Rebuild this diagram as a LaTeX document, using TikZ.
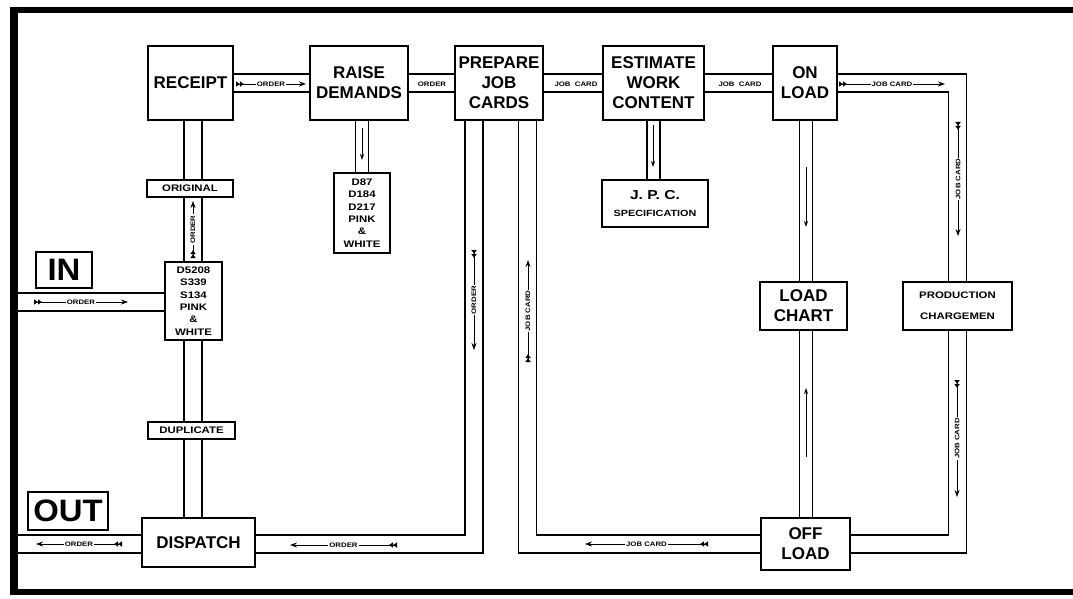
\documentclass[tikz,border=0pt]{standalone}
\usepackage{fontspec}
\setmainfont{Liberation Sans}
\newfontfamily\widefont[FakeStretch=1.2]{Liberation Sans}
\newfontfamily\boxfont[FakeStretch=1.06]{Liberation Sans}
\usetikzlibrary{arrows.meta,backgrounds}

\tikzset{
  box/.style={draw, fill=white, line width=1.3pt, align=center, inner sep=0pt,
    font=\fontsize{17}{20}\selectfont\bfseries},
  tag/.style={draw, fill=white, line width=1.3pt, align=center, inner sep=0pt,
    font=\widefont\fontsize{9.5}{12.3}\selectfont\bfseries},
  bigtag/.style={draw, fill=white, line width=2.5pt, inner sep=0pt,
    font=\boxfont\fontsize{31}{31}\selectfont\bfseries},
  pipe/.style={double distance=16.5pt, line width=1.3pt},
  thinpipe/.style={double distance=11.5pt, line width=1.3pt},
  flow/.style={line width=0.9pt,
    arrows={{Latex[reversed,length=4pt,width=6pt]Latex[reversed,length=4pt,width=6pt]}-{Stealth[length=7pt,width=5pt]}}},
  plainarrow/.style={line width=1pt, -{Stealth[length=6pt,width=4pt]}},
  lab/.style={fill=white, inner sep=1pt, font=\widefont\fontsize{6.5}{7}\selectfont\bfseries},
}

\begin{document}
\begin{tikzpicture}[x=1pt, y=-1pt]
    \useasboundingbox (0,0) rectangle (1073,599);

    % --- main row ---
    \node[box, minimum width=85pt, minimum height=74pt] (receipt) at (190.5,83) {RECEIPT};
    \node[box, minimum width=98pt, minimum height=74pt] (raise) at (359,83) {RAISE\\DEMANDS};
    \node[box, minimum width=88pt, minimum height=74pt] (prepare) at (499,83) {PREPARE\\JOB\\CARDS};
    \node[box, minimum width=101pt, minimum height=74pt] (estimate) at (653.5,83) {ESTIMATE\\WORK\\CONTENT};
    \node[box, minimum width=64pt, minimum height=74pt] (onload) at (805,83) {ON\\LOAD};

    % --- forms and copies ---
    \node[tag, minimum width=86pt, minimum height=17pt] (original) at (190,188.5) {ORIGINAL};
    \node[tag, minimum width=57pt, minimum height=78pt] (forms1) at (193.5,301)
        {D5208\\S339\\S134\\PINK\\\&\\WHITE};
    \node[tag, minimum width=87pt, minimum height=17pt] (duplicate) at (191.5,430.5) {DUPLICATE};
    \node[tag, minimum width=56pt, minimum height=80pt] (forms2) at (362,213)
        {D87\\D184\\D217\\PINK\\\&\\WHITE};
    \node[tag, minimum width=106pt, minimum height=47pt, font=\widefont\fontsize{13}{16}\selectfont\bfseries] (jpc) at (655,203.5)
        {J.\,\,P.\,\,C.\\[1pt]{\fontsize{9}{10}\selectfont SPECIFICATION}};
    \node[tag, minimum width=109pt, minimum height=48pt, font=\widefont\fontsize{9.5}{21}\selectfont\bfseries] (prod) at (957.5,306)
        {PRODUCTION\\CHARGEMEN};

    % --- lower boxes ---
    \node[box, minimum width=87pt, minimum height=48pt] (loadchart) at (803.5,306) {LOAD\\CHART};
    \node[box, minimum width=89pt, minimum height=52pt] (offload) at (805.5,544) {OFF\\LOAD};
    \node[box, minimum width=113pt, minimum height=49pt] (dispatch) at (198.5,542.5) {DISPATCH};
    \node[bigtag, minimum width=56pt, minimum height=36pt] (inbox) at (64,270) {IN};
    \node[bigtag, minimum width=80pt, minimum height=38pt] (outbox) at (68,511) {OUT};

    % --- channels, under the boxes ---
    \coordinate (spine) at ([xshift=2.5pt]receipt.center);
    \coordinate (ordr) at ([xshift=-25pt]prepare.center);
    \coordinate (jobr) at ([xshift=28.5pt]prepare.center);
    \coordinate (inend) at (12,302);
    \coordinate (outend) at (12,544);
    \begin{scope}[on background layer]
        \draw[pipe] (receipt.center) -- (raise.center);
        \draw[pipe] (raise.center) -- (prepare.center);
        \draw[pipe] (prepare.center) -- (estimate.center);
        \draw[pipe] (estimate.center) -- (onload.center);
        \draw[pipe] (onload.center) -| (prod.center);
        \draw[pipe] (prod.center) |- (offload.center);
        \draw[pipe] (spine) -- (spine |- dispatch.center);
        \draw[pipe] (ordr) |- (dispatch.center |- offload.center);
        \draw[pipe] (jobr) |- (offload.center);
        \draw[pipe] (inend) -- (inend -| forms1.center);
        \draw[pipe] (outend) -- (outend -| dispatch.center);
        \draw[thinpipe] (forms2.center) -- (forms2 |- raise.center);
        \draw[thinpipe] (estimate.center) -- (estimate |- jpc.center);
        \draw[thinpipe] ([xshift=1pt]onload.center) -- ([xshift=1pt]onload.center |- offload.center);
    \end{scope}

    % --- what moves along the channels ---
    \draw[flow] (34,302) -- node[lab] (f1) {ORDER} (128,302);
    \draw[flow] (236,84) -- node[lab] (f2) {ORDER} (306,84);
    \node[lab] (f3) at (432,84) {ORDER};
    \node[lab] (f4) at (576,84) {JOB\ \ CARD};
    \node[lab] (f5) at (740,84) {JOB\ \ CARD};
    \draw[flow] (839,84) -- node[lab] (f6) {JOB CARD} (945,84);
    \draw[flow] (958,122) -- node[lab, rotate=90] (f7) {JOB CARD} (958,236);
    \draw[flow] (957,380) -- node[lab, rotate=90] (f8) {JOB CARD} (957,497);
    \draw[flow] (708,544) -- node[lab] (f9) {JOB CARD} (585,544);
    \draw[flow] (528,362) -- node[lab, rotate=90] (f10) {JOB CARD} (528,260);
    \draw[flow] (474,250) -- node[lab, rotate=90] (f11) {ORDER} (474,350);
    \draw[flow] (397,545) -- node[lab] (f12) {ORDER} (290,545);
    \draw[flow] (122,544) -- node[lab] (f13) {ORDER} (36,544);
    \draw[flow] (193,258) -- node[lab, rotate=90] (f14) {ORDER} (193,201);

    \draw[plainarrow] (362,128) -- (362,160);
    \draw[plainarrow] (653,125) -- (653,167);
    \draw[plainarrow] (806,167) -- (806,227);
    \draw[plainarrow] (806,457) -- (806,388);

    % --- frame ---
    \draw[line width=6pt, line join=miter] (1073,10) -- (14,10) -- (14,592) -- (1073,592);
    \draw[line width=8pt] (14,7) -- (14,595);
\end{tikzpicture}
\end{document}
